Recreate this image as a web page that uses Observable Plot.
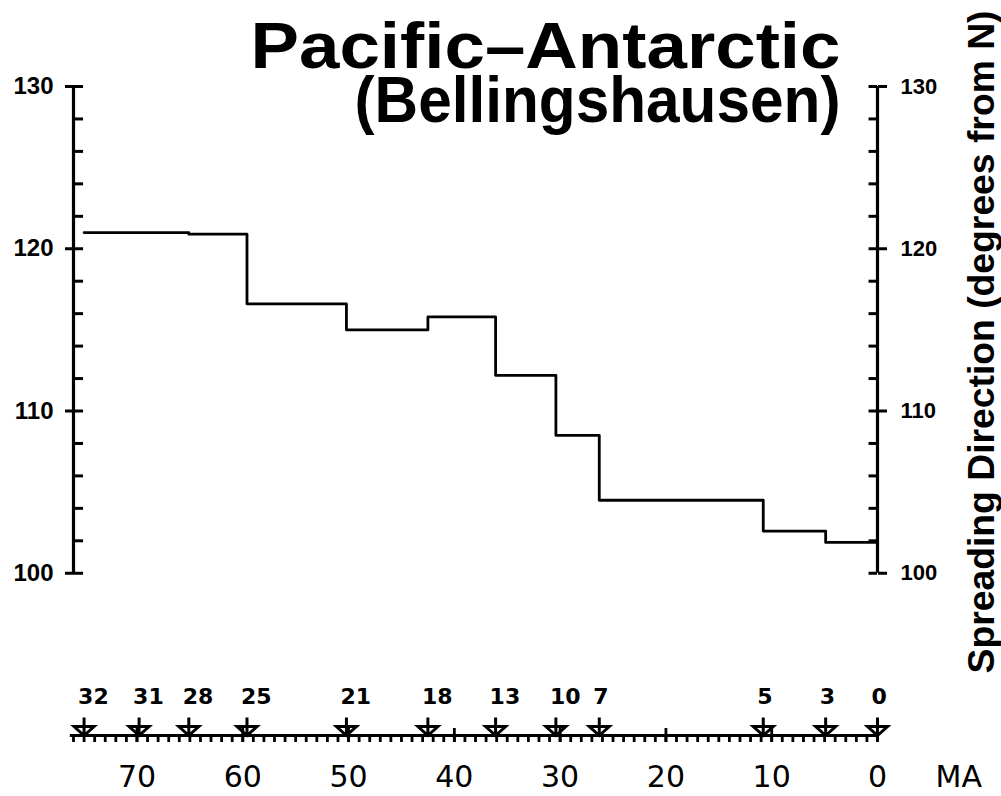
<!DOCTYPE html>
<html>
<head>
<meta charset="utf-8">
<script src="https://cdn.jsdelivr.net/npm/d3@7"></script>
<script src="https://cdn.jsdelivr.net/npm/@observablehq/plot@0.6"></script>
<style>
  html, body { margin: 0; padding: 0; background: #fff; }
  #chart { width: 1001px; height: 796px; overflow: hidden; }
</style>
</head>
<body>
<div id="chart"></div>
<script>
// ---- data ----
const titleLines = ["Pacific\u2013Antarctic", "(Bellingshausen)"];
const yAxisTitle = "Spreading Direction (degrees from N)";
const timeUnit = "MA";

// magnetic anomaly names and their ages (MA)
const anomalyNames = ["32", "31", "28", "25", "21", "18", "13", "10", "7", "5", "3", "0"];
const anomalyAges  = [75.0, 69.8, 65.1, 59.6, 50.2, 42.5, 36.1, 30.4, 26.3, 10.8, 4.9, 0.0];

// step boundaries (MA) and spreading direction (degrees) held from each boundary
const stepAges   = [75.0, 65.1, 59.6, 50.2, 42.5, 36.1, 30.4, 26.3, 10.8, 4.9, 0.0];
const stepValues = [121.0, 120.9, 116.6, 115.0, 115.8, 112.2, 108.5, 104.5, 102.6, 101.9, 101.9];

const yMajorTicks = [100, 110, 120, 130];
const yMinorTicks = d3.range(100, 131, 2);
const timeMajorTicks = [0, 10, 20, 30, 40, 50, 60, 70];
const timeMinorTicks = d3.range(0, 77, 1);

// ---- tables built from the arrays ----
const steps = stepAges.map((a, i) => ({age: a, dir: stepValues[i]}));
const anomalies = anomalyNames.map((n, i) => ({name: n, age: anomalyAges[i]}));

const TIME_AXIS_Y = 90;   // level (in y units) where the time axis is drawn
const X_LEFT = 76, X_RIGHT = 0;

// custom marker: inverted triangle with a vertical stem, apex on the axis
const anomalySymbol = {
  draw(ctx) {
    ctx.moveTo(0, -18); ctx.lineTo(0, 0);
    ctx.moveTo(-10, -9); ctx.lineTo(10, -9); ctx.lineTo(0, 0); ctx.closePath();
  }
};

const sans = "Liberation Sans, Arial, Helvetica, sans-serif";
const wide = "DejaVu Sans, Verdana, sans-serif";

const chart = Plot.plot({
  width: 1001,
  height: 796,
  marginLeft: 73,
  marginRight: 124,
  marginTop: 86,
  marginBottom: 61,
  style: {fontFamily: sans, background: "white", color: "black", overflow: "visible"},
  x: {domain: [X_LEFT, X_RIGHT], axis: null},
  y: {domain: [TIME_AXIS_Y, 130], axis: null},
  marks: [
    // left axis
    Plot.ruleX([X_LEFT], {y1: 100, y2: 130, strokeWidth: 3.2}),
    Plot.ruleY(yMinorTicks, {y: d => d, x1: X_LEFT, x2: X_LEFT - 0.95, strokeWidth: 3}),
    Plot.axisY({anchor: "left", ticks: yMajorTicks, tickSize: 8, tickPadding: 12, fontSize: 24, fontWeight: "bold", strokeWidth: 3, label: null}),
    // right axis
    Plot.ruleX([X_RIGHT], {y1: 100, y2: 130, strokeWidth: 3.2}),
    Plot.ruleY(yMinorTicks, {y: d => d, x1: X_RIGHT, x2: X_RIGHT + 0.8, strokeWidth: 3}),
    Plot.axisY({anchor: "right", ticks: yMajorTicks, tickSize: 9, tickPadding: 14, fontSize: 22, fontWeight: "bold", strokeWidth: 3, label: null}),
    // step line
    Plot.line(steps, {x: "age", y: "dir", curve: "step-after", strokeWidth: 2.8, stroke: "black"}),
    // time axis
    Plot.ruleY([TIME_AXIS_Y], {x1: 76.3, x2: X_RIGHT, strokeWidth: 3.2}),
    Plot.axisX({anchor: "bottom", ticks: timeMinorTicks, tickSize: 7, tickFormat: () => "", strokeWidth: 2.8, label: null}),
    Plot.axisX({anchor: "bottom", ticks: timeMajorTicks, tickSize: 14, dy: -7, tickFormat: () => "", strokeWidth: 2.8, label: null}),
    Plot.axisX({anchor: "bottom", ticks: timeMajorTicks, tickSize: 0, tickPadding: 30, fontSize: 30, fontFamily: wide, tickFormat: d => String(d), label: null}),
    Plot.text([timeUnit], {x: X_RIGHT, y: TIME_AXIS_Y, dx: 58, dy: 30, lineAnchor: "top", textAnchor: "start", fontSize: 30, fontFamily: wide}),
    // anomaly markers and names
    Plot.dot(anomalies, {x: "age", y: TIME_AXIS_Y, symbol: anomalySymbol, r: 10, stroke: "black", fill: "none", strokeWidth: 3}),
    Plot.text(anomalies, {x: "age", y: TIME_AXIS_Y, text: "name", dx: -6, dy: -32, lineAnchor: "bottom", textAnchor: "start", fontSize: 22, fontFamily: wide, fontWeight: "bold"}),
    // title (two lines in one text)
    Plot.text([titleLines.join("\n")], {frameAnchor: "top-right", dx: -37, dy: 35, lineAnchor: "bottom", lineHeight: 0.83, textAnchor: "end", fontSize: 64, fontWeight: "bold"}),
    // right rotated axis title
    Plot.text([yAxisTitle], {frameAnchor: "right", rotate: -90, dx: 116, dy: -69, lineAnchor: "bottom", textAnchor: "middle", fontSize: 37, fontWeight: "bold"})
  ]
});

// fit text lengths to the reference
const fits = new Map([[titleLines[0], 590], [titleLines[1], 486], [yAxisTitle, 663]]);
chart.querySelectorAll("text, tspan").forEach(t => {
  if (t.tagName === "text" && t.querySelector("tspan")) return;
  const L = fits.get(t.textContent);
  if (L) { t.setAttribute("textLength", L); t.setAttribute("lengthAdjust", "spacingAndGlyphs"); }
});

document.getElementById("chart").appendChild(chart);
</script>
</body>
</html>
